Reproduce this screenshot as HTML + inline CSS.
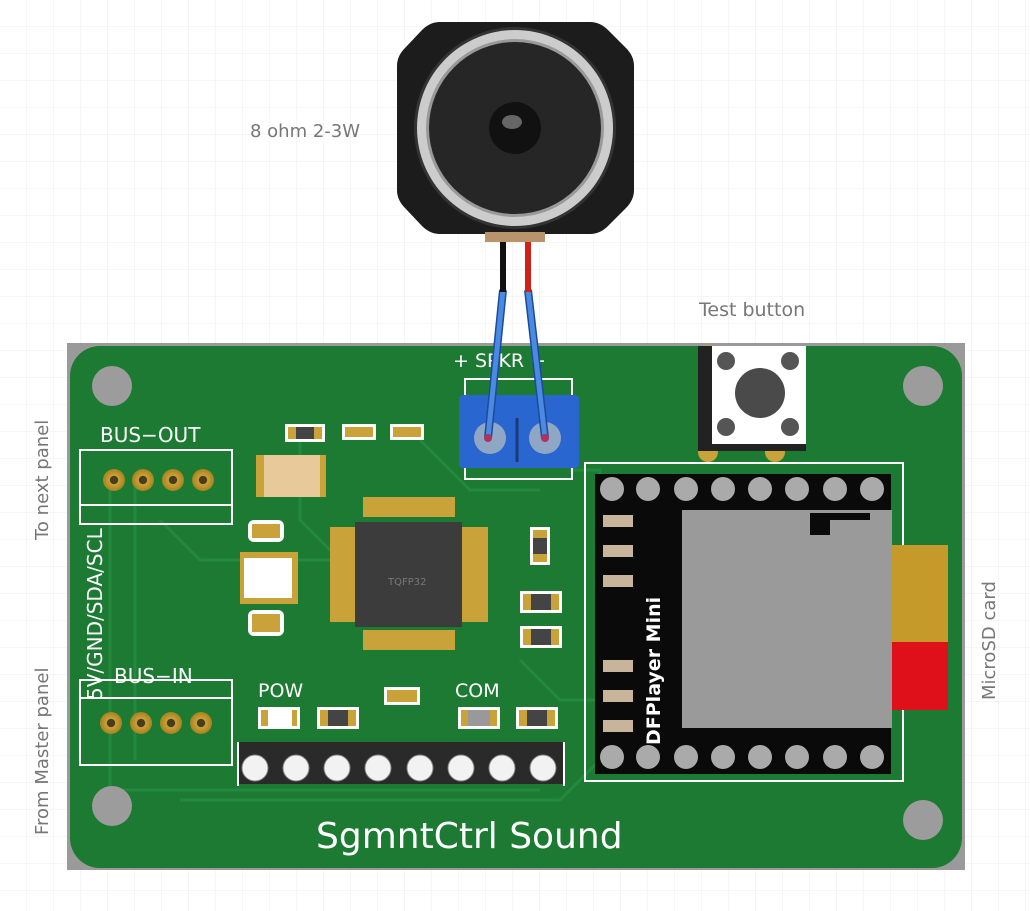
<!DOCTYPE html>
<html><head><meta charset="utf-8"><style>
html,body{margin:0;padding:0;background:#fff;width:1030px;height:911px;overflow:hidden}
svg{display:block}
text{font-family:"DejaVu Sans","Liberation Sans",sans-serif}
</style></head><body>
<svg width="1030" height="911" viewBox="0 0 1030 911" xmlns="http://www.w3.org/2000/svg">
<defs>
<pattern id="g" width="27" height="27" patternUnits="userSpaceOnUse"><path d="M27 0V27H0" fill="none" stroke="#ececec" stroke-width="1"/></pattern>
<radialGradient id="pin" cx="0.5" cy="0.5" r="0.5"><stop offset="0.35" stop-color="#4a3c1a"/><stop offset="0.4" stop-color="#c9a23a"/><stop offset="1" stop-color="#a8821f"/></radialGradient>
</defs>
<rect width="1030" height="911" fill="url(#g)"/>
<rect x="67" y="343" width="898" height="527" fill="#9a9a9a"/>
<rect x="70" y="346" width="892" height="522" rx="30" fill="#1c7a33"/>
<g fill="none" stroke="#23893c" stroke-width="3">
<path d="M110 480V790H540"/><path d="M135 480V760"/><path d="M160 520L200 560H330"/><path d="M300 440V520L340 560"/><path d="M420 440L470 490H540"/><path d="M520 660L560 700H600"/><path d="M180 800H560L600 760"/><path d="M570 470H600V520"/>
</g>
<g fill="#9c9c9c"><circle cx="112" cy="386" r="20"/><circle cx="112" cy="806" r="20"/><circle cx="923" cy="386" r="20"/><circle cx="923" cy="820" r="20"/></g>
<text x="100" y="442" font-size="20" fill="#fff">BUS−OUT</text>
<rect x="80" y="450" width="152" height="74" fill="none" stroke="#fff" stroke-width="2"/>
<line x1="80" y1="505" x2="232" y2="505" stroke="#fff" stroke-width="2"/>
<g fill="url(#pin)"><circle cx="114" cy="480" r="11"/><circle cx="143" cy="480" r="11"/><circle cx="173" cy="480" r="11"/><circle cx="203" cy="480" r="11"/></g>
<text x="114" y="683" font-size="20" fill="#fff">BUS−IN</text>
<rect x="80" y="680" width="152" height="85" fill="none" stroke="#fff" stroke-width="2"/>
<line x1="80" y1="698" x2="232" y2="698" stroke="#fff" stroke-width="2"/>
<g fill="url(#pin)"><circle cx="111" cy="723" r="11"/><circle cx="141" cy="723" r="11"/><circle cx="171" cy="723" r="11"/><circle cx="201" cy="723" r="11"/></g>
<text transform="translate(102,700) rotate(-90)" font-size="20" fill="#fff">5V/GND/SDA/SCL</text>
<text transform="translate(48,540) rotate(-90)" font-size="18" fill="#777">To next panel</text>
<text transform="translate(48,835) rotate(-90)" font-size="18" fill="#777">From Master panel</text>
<text transform="translate(995,700) rotate(-90)" font-size="18" fill="#777">MicroSD card</text>
<text x="250" y="137" font-size="18" fill="#777">8 ohm 2-3W</text>
<text x="699" y="316" font-size="19" fill="#777">Test button</text>
<g>
<rect x="285" y="424" width="40" height="18" fill="#fff"/><rect x="288" y="427" width="34" height="12" fill="#c9a23a"/><rect x="296" y="427" width="18" height="12" fill="#444"/>
<rect x="342" y="424" width="34" height="16" fill="#fff"/><rect x="345" y="427" width="28" height="10" fill="#c9a23a"/>
<rect x="390" y="424" width="34" height="16" fill="#fff"/><rect x="393" y="427" width="28" height="10" fill="#c9a23a"/>
<rect x="256" y="455" width="70" height="42" fill="#c9a23a"/><rect x="264" y="455" width="56" height="42" fill="#e8c99a"/>
<rect x="248" y="520" width="36" height="22" rx="6" fill="#fff"/><rect x="252" y="524" width="28" height="14" fill="#c9a23a"/>
<rect x="240" y="552" width="58" height="52" fill="#c9a23a"/><rect x="244" y="558" width="48" height="40" fill="#fff"/>
<rect x="248" y="610" width="36" height="26" rx="6" fill="#fff"/><rect x="252" y="614" width="28" height="18" fill="#c9a23a"/>
<rect x="530" y="527" width="20" height="38" fill="#fff"/><rect x="533" y="530" width="14" height="32" fill="#c9a23a"/><rect x="533" y="538" width="14" height="16" fill="#444"/>
<rect x="520" y="591" width="42" height="22" fill="#fff"/><rect x="523" y="594" width="36" height="16" fill="#c9a23a"/><rect x="531" y="594" width="20" height="16" fill="#444"/>
<rect x="520" y="626" width="42" height="22" fill="#fff"/><rect x="523" y="629" width="36" height="16" fill="#c9a23a"/><rect x="531" y="629" width="20" height="16" fill="#444"/>
<rect x="384" y="687" width="36" height="18" fill="#fff"/><rect x="387" y="690" width="30" height="12" fill="#c9a23a"/>
<rect x="258" y="707" width="42" height="22" fill="#fff"/><rect x="261" y="710" width="36" height="16" fill="#c9a23a"/><rect x="268" y="710" width="24" height="16" fill="#fff"/>
<rect x="317" y="707" width="42" height="22" fill="#fff"/><rect x="320" y="710" width="36" height="16" fill="#c9a23a"/><rect x="328" y="710" width="20" height="16" fill="#444"/>
<rect x="458" y="707" width="42" height="22" fill="#fff"/><rect x="461" y="710" width="36" height="16" fill="#c9a23a"/><rect x="468" y="710" width="22" height="16" fill="#999"/>
<rect x="516" y="707" width="42" height="22" fill="#fff"/><rect x="519" y="710" width="36" height="16" fill="#c9a23a"/><rect x="527" y="710" width="20" height="16" fill="#444"/>
</g>
<text x="258" y="697" font-size="19" fill="#fff">POW</text>
<text x="455" y="697" font-size="19" fill="#fff">COM</text>
<g fill="#c9a23a">
<rect x="363" y="497" width="92" height="20"/><rect x="363" y="630" width="92" height="20"/>
<rect x="330" y="527" width="28" height="95"/><rect x="460" y="527" width="28" height="95"/>
</g>
<rect x="355" y="522" width="107" height="105" fill="#3c3c3c"/>
<text x="388" y="585" font-size="10" fill="#777">TQFP32</text>
<rect x="238" y="742" width="326" height="42" fill="#2a2a2a"/>
<path d="M238 742V786M564 742V786" stroke="#fff" stroke-width="2"/>
<g fill="#f2f2f2" stroke="#888"><circle cx="255" cy="768" r="13"/><circle cx="296" cy="768" r="13"/><circle cx="337" cy="768" r="13"/><circle cx="378" cy="768" r="13"/><circle cx="420" cy="768" r="13"/><circle cx="461" cy="768" r="13"/><circle cx="502" cy="768" r="13"/><circle cx="543" cy="768" r="13"/></g>
<text x="316" y="848" font-size="36" fill="#fff">SgmntCtrl Sound</text>
<text x="453" y="367" font-size="19" fill="#fff">+ SPKR −</text>
<rect x="465" y="379" width="107" height="100" fill="none" stroke="#fff" stroke-width="2"/>
<rect x="459" y="395" width="120" height="73" rx="4" fill="#2a66d0"/>
<circle cx="490" cy="438" r="16" fill="#8fa6c4"/><circle cx="545" cy="438" r="16" fill="#8fa6c4"/>
<line x1="517" y1="418" x2="517" y2="462" stroke="#1a3a7a" stroke-width="3"/>
<path d="M503 290L488 438" stroke="#1d4a9a" stroke-width="8"/>
<path d="M528 290L545 438" stroke="#1d4a9a" stroke-width="8"/>
<path d="M503 290L488 438" stroke="#4a8ae0" stroke-width="5"/>
<path d="M528 290L545 438" stroke="#4a8ae0" stroke-width="5"/>
<circle cx="488" cy="438" r="4" fill="#b03060"/><circle cx="545" cy="438" r="4" fill="#b03060"/>
<path d="M503 238V292" stroke="#111" stroke-width="6"/>
<path d="M528 238V292" stroke="#d0201a" stroke-width="6"/>
<path d="M440 22H590Q600 22 608 30L626 48Q634 56 634 66V190Q634 200 626 208L608 226Q600 234 590 234H440Q430 234 422 226L405 208Q397 200 397 190V66Q397 56 405 48L422 30Q430 22 440 22Z" fill="#1c1c1c"/>
<circle cx="515" cy="128" r="101" fill="#333"/>
<circle cx="515" cy="128" r="98" fill="#ccc"/>
<circle cx="515" cy="128" r="89" fill="#999"/>
<circle cx="515" cy="128" r="86" fill="#262626"/>
<circle cx="515" cy="128" r="26" fill="#111"/>
<ellipse cx="512" cy="122" rx="10" ry="7" fill="#666"/>
<rect x="485" y="232" width="60" height="10" fill="#b8946a"/>
<circle cx="708" cy="355" r="10" fill="#c9a23a"/><circle cx="708" cy="452" r="10" fill="#c9a23a"/><circle cx="775" cy="452" r="10" fill="#c9a23a"/>
<rect x="698" y="346" width="108" height="105" fill="#222"/>
<rect x="712" y="346" width="94" height="98" fill="#fff"/>
<circle cx="726" cy="361" r="9" fill="#555"/><circle cx="790" cy="361" r="9" fill="#555"/><circle cx="726" cy="427" r="9" fill="#555"/><circle cx="790" cy="427" r="9" fill="#555"/>
<circle cx="760" cy="393" r="25" fill="#4a4a4a"/>
<rect x="585" y="463" width="318" height="318" fill="none" stroke="#fff" stroke-width="2"/>
<rect x="595" y="474" width="296" height="300" fill="#0a0a0a"/>
<g fill="#aaa"><circle cx="612" cy="489" r="12"/><circle cx="648" cy="489" r="12"/><circle cx="686" cy="489" r="12"/><circle cx="723" cy="489" r="12"/><circle cx="760" cy="489" r="12"/><circle cx="797" cy="489" r="12"/><circle cx="835" cy="489" r="12"/><circle cx="872" cy="489" r="12"/>
<circle cx="612" cy="757" r="12"/><circle cx="648" cy="757" r="12"/><circle cx="686" cy="757" r="12"/><circle cx="723" cy="757" r="12"/><circle cx="760" cy="757" r="12"/><circle cx="797" cy="757" r="12"/><circle cx="835" cy="757" r="12"/><circle cx="872" cy="757" r="12"/></g>
<rect x="888" y="545" width="60" height="100" fill="#c59a2a"/>
<rect x="888" y="642" width="60" height="68" fill="#e0101a"/>
<rect x="682" y="510" width="210" height="218" fill="#9a9a9a"/>
<path d="M810 513H870V520H830V535H810Z" fill="#0a0a0a"/>
<g fill="#c7b49a"><rect x="603" y="515" width="30" height="12"/><rect x="603" y="545" width="30" height="12"/><rect x="603" y="575" width="30" height="12"/><rect x="603" y="660" width="30" height="12"/><rect x="603" y="690" width="30" height="12"/><rect x="603" y="720" width="30" height="12"/></g>
<text transform="translate(660,745) rotate(-90)" font-size="19" font-family="Liberation Serif,serif" font-weight="bold" fill="#fff">DFPlayer Mini</text>
</svg>
</body></html>
